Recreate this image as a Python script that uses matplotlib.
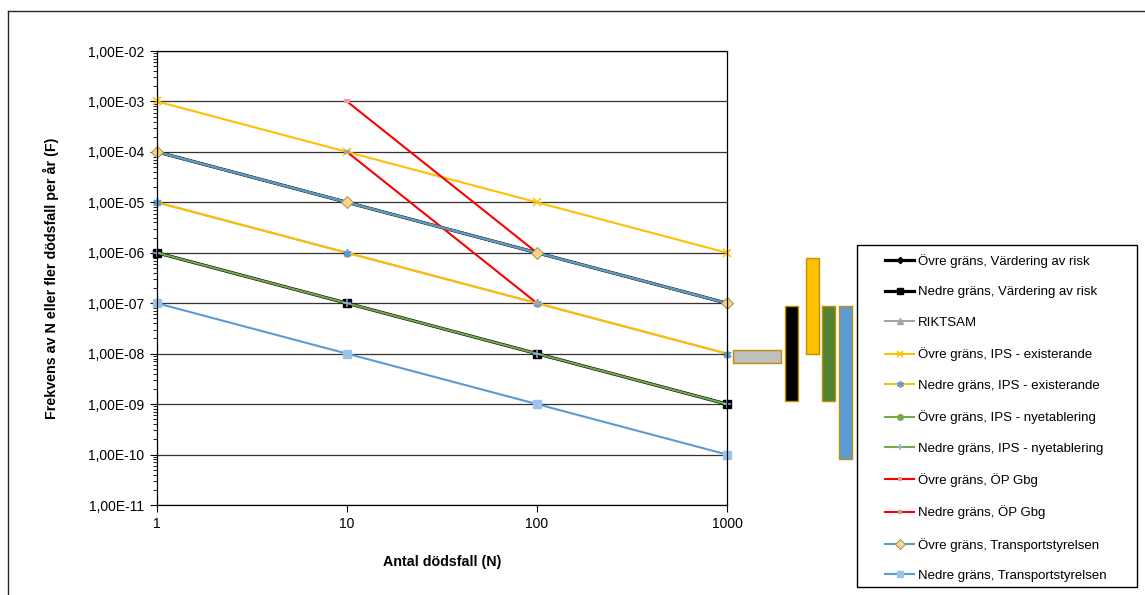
import numpy as np
import matplotlib
matplotlib.use("Agg")
import matplotlib.pyplot as plt
from matplotlib.ticker import LogLocator, FuncFormatter, NullLocator, FixedLocator
from matplotlib.lines import Line2D
from matplotlib.patches import Rectangle

plt.rcParams['font.family'] = ['Liberation Sans', 'DejaVu Sans']

# antal dödsfall
n_all = [1, 10, 100, 1000]
n_gbg = [10, 100]

vard_ovre = [1e-4, 1e-5, 1e-6, 1e-7]
vard_nedre = [1e-6, 1e-7, 1e-8, 1e-9]
riktsam = [1e-5, 1e-6, 1e-7, 1e-8]
ips_ex_ovre = [1e-3, 1e-4, 1e-5, 1e-6]
ips_ex_nedre = [1e-5, 1e-6, 1e-7, 1e-8]
ips_ny_ovre = [1e-4, 1e-5, 1e-6, 1e-7]
ips_ny_nedre = [1e-6, 1e-7, 1e-8, 1e-9]
gbg_ovre = [1e-3, 1e-6]
gbg_nedre = [1e-4, 1e-7]
ts_ovre = [1e-4, 1e-5, 1e-6, 1e-7]
ts_nedre = [1e-7, 1e-8, 1e-9, 1e-10]

# intervall vid N=1000 (staplarna till höger)
bar_low = [6.5e-9, 1.15e-9, 9.8e-9, 1.15e-9, 8.1e-11]
bar_high = [1.18e-8, 8.8e-8, 7.9e-7, 8.8e-8, 8.8e-8]
bar_colors = ['#BFBFBF', '#000000', '#FFC000', '#548235', '#5B9BD5']
# x-läge i axelkoordinater (vänster, höger)
bar_x = [(1.0105, 1.0947), (1.1018, 1.1246), (1.1386, 1.1614),
         (1.1667, 1.1895), (1.1965, 1.2193)]

W, H = 1145, 595
fig = plt.figure(figsize=(W / 100, H / 100), dpi=100)
ax = fig.add_axes([157 / W, 1 - 505 / H, 570 / W, 454 / H])

lw = 1.5
kw = dict(clip_on=False)
ax.plot(n_all, vard_ovre, color='black', lw=2.3, marker='D', ms=4, label='Övre gräns, Värdering av risk', **kw)
ax.plot(n_all, vard_nedre, color='black', lw=2.3, marker='s', ms=5.5, label='Nedre gräns, Värdering av risk', **kw)
ax.plot(n_all, riktsam, color='#A5A5A5', lw=lw, marker='^', ms=5, label='RIKTSAM', **kw)
ax.plot(n_all, ips_ex_ovre, color='#FFC000', lw=lw, marker='x', ms=6, mew=1.1,
        label='Övre gräns, IPS - existerande', **kw)
ax.plot(n_all, ips_ex_nedre, color='#FFC000', lw=lw, marker=(6, 2, 0), ms=6, mec='#5B9BD5', mew=1.1,
        label='Nedre gräns, IPS - existerande', **kw)
ax.plot(n_all, ips_ny_ovre, color='#70AD47', lw=lw, marker='o', ms=5, label='Övre gräns, IPS - nyetablering', **kw)
ax.plot(n_all, ips_ny_nedre, color='#70AD47', lw=lw, marker='+', ms=6, mec='#8FAADC', mew=1.1,
        label='Nedre gräns, IPS - nyetablering', **kw)
ax.plot(n_gbg, gbg_ovre, color='#FF0000', lw=lw, marker='_', ms=4, mew=3, mec='#FF9999',
        label='Övre gräns, ÖP Gbg', **kw)
ax.plot(n_gbg, gbg_nedre, color='#FF0000', lw=lw, marker='_', ms=4, mew=3, mec='#A5A5A5',
        label='Nedre gräns, ÖP Gbg', **kw)
ax.plot(n_all, ts_ovre, color='#5B9BD5', lw=lw, marker='D', ms=6.2, mfc='#FFD18C', mec='#8A8A3A', mew=0.6,
        label='Övre gräns, Transportstyrelsen', **kw)
ax.plot(n_all, ts_nedre, color='#5B9BD5', lw=lw, marker='s', ms=5.5, mfc='#9DC3E6', mec='#9DC3E6',
        label='Nedre gräns, Transportstyrelsen', **kw)

ax.set_xscale('log')
ax.set_yscale('log')
ax.set_xlim(1, 1000)
ax.set_ylim(1e-11, 1e-2)

ax.xaxis.set_major_locator(FixedLocator(n_all))
ax.xaxis.set_minor_locator(NullLocator())
ax.xaxis.set_major_formatter(FuncFormatter(lambda v, p: f"{v:.0f}"))
ax.yaxis.set_major_locator(LogLocator(base=10, numticks=20))
ax.yaxis.set_minor_locator(LogLocator(base=10, subs=np.arange(2, 10), numticks=20))
ax.yaxis.set_major_formatter(FuncFormatter(lambda v, p: f"{v:.2E}".replace('.', ',')))

ax.tick_params(axis='both', which='major', labelsize=10, length=5, width=0.8, direction='out', pad=4, colors='black')
ax.tick_params(axis='y', which='minor', length=3, width=0.6, direction='out')
ax.grid(True, which='major', axis='y', color='#333333', lw=0.9)
ax.set_axisbelow(True)
for s in ax.spines.values():
    s.set_color('black')
    s.set_linewidth(0.9)

ax.set_xlabel('Antal dödsfall (N)', fontsize=10.3, fontweight='bold', labelpad=17)
ax.set_ylabel('Frekvens av N eller fler dödsfall per år (F)', fontsize=10.3, fontweight='bold', labelpad=21)

# staplar till höger
trans = ax.get_yaxis_transform()
for (x0, x1), lo, hi, c in zip(bar_x, bar_low, bar_high, bar_colors):
    ax.add_patch(Rectangle((x0, lo), x1 - x0, hi - lo, transform=trans, facecolor=c,
                           edgecolor='#BF9000', lw=1.0, clip_on=False))

# teckenförklaring
leg = ax.legend(loc='upper left', bbox_to_anchor=(885 / W, 1 - 254 / H), bbox_transform=fig.transFigure,
                frameon=False, fontsize=9.5, handlelength=2.2, handletextpad=0.3, labelspacing=1.39,
                borderpad=0, borderaxespad=0, markerscale=0.8)
fig.add_artist(Rectangle((857 / W, 1 - 587 / H), 280 / W, 342 / H, transform=fig.transFigure,
                         facecolor='none', edgecolor='black', lw=1.0))

# yttre ram
fig.add_artist(Line2D([8 / W, 1], [1 - 11 / H, 1 - 11 / H], color='#262626', lw=1.0))
fig.add_artist(Line2D([8 / W, 8 / W], [0, 1 - 11 / H], color='#262626', lw=1.0))

fig.savefig('out.png', dpi=100)
